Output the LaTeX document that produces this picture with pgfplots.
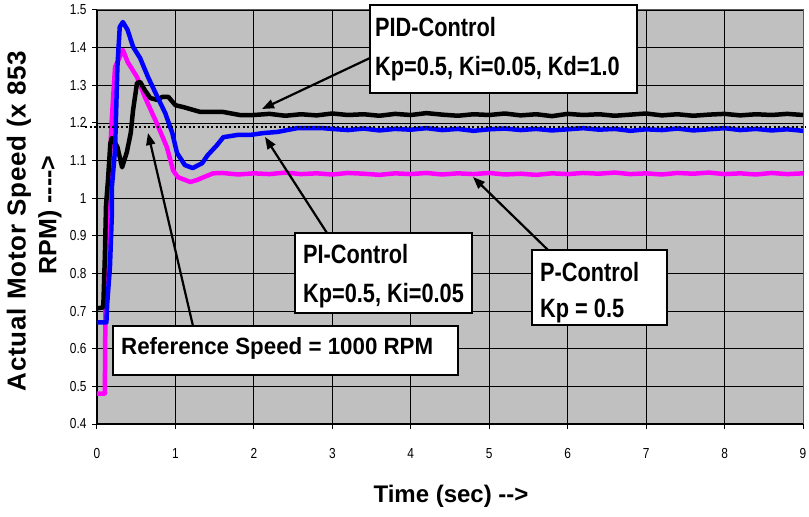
\documentclass[border=0pt]{standalone}
\usepackage{fontspec}
\setmainfont{Liberation Sans}[FakeStretch=0.82]
\newfontfamily\reffont{Liberation Sans}[FakeStretch=0.95]
\newfontfamily\labfont{Liberation Sans}[LetterSpace=3]
\newfontfamily\labplain{Liberation Sans}
\usepackage{pgfplots}
\pgfplotsset{compat=1.18}
\usetikzlibrary{arrows.meta}
\definecolor{plotgray}{RGB}{192,192,192}
\definecolor{pmag}{RGB}{255,0,255}
\definecolor{pblue}{RGB}{0,0,255}
\newcommand{\hy}{-\kern0pt}
\begin{document}
\begin{tikzpicture}
\useasboundingbox (-97bp,-93bp) rectangle (712bp,424bp);
\begin{axis}[at={(0,0)},anchor=south west,
 width=706bp,height=414bp,scale only axis,
 xmin=0,xmax=9,ymin=0.4,ymax=1.5,
 xtick={0,1,...,9},
 ytick={0.4,0.5,0.6,0.7,0.8,0.9,1,1.1,1.2,1.3,1.4,1.5},
 axis x line=bottom, axis y line=left,
 x axis line style={-}, y axis line style={-},
 axis line style={black,line width=1.2bp},
 tick align=outside, major tick length=5bp, tick style={black,line width=1bp},
 grid=major, major grid style={black,line width=0.8bp},
 axis background/.style={fill=plotgray},
 /pgf/number format/assume math mode=true,
 ticklabel style={font=\fontsize{14.5bp}{16bp}\selectfont},
 xticklabel style={yshift=-16bp},
 yticklabel style={xshift=-2bp},
 clip=false,
]
\draw[gray!70!black,line width=1bp] (rel axis cs:0,1) -- (rel axis cs:1,1) -- (rel axis cs:1,0);
% P-control
\addplot[pmag,line width=4.5bp,line join=round] coordinates {
(0,0.481) (0.1,0.481) (0.11,0.774) (0.13,0.95) (0.19,1.215) (0.23,1.348) (0.29,1.375) (0.33,1.394)
(0.39,1.362) (0.51,1.322) (0.61,1.269) (0.76,1.2) (0.89,1.136) (0.97,1.074) (1.03,1.056)
(1.19,1.043) (1.27,1.048) (1.48,1.066)
(1.6,1.067) (1.8,1.063) (2.0,1.066) (2.2,1.064) (2.4,1.068) (2.6,1.064) (2.8,1.066) (3.0,1.063)
(3.2,1.067) (3.4,1.065) (3.6,1.062) (3.8,1.066) (4.0,1.064) (4.2,1.067) (4.4,1.063) (4.6,1.066)
(4.8,1.064) (5.0,1.067) (5.2,1.063) (5.4,1.065) (5.6,1.062) (5.8,1.066) (6.0,1.064) (6.2,1.067)
(6.4,1.065) (6.6,1.068) (6.8,1.064) (7.0,1.066) (7.2,1.063) (7.4,1.067) (7.6,1.065) (7.8,1.068)
(8.0,1.064) (8.2,1.066) (8.4,1.063) (8.6,1.067) (8.8,1.064) (9.0,1.066)};
% PID-control
\addplot[black,line width=4.5bp,line join=round] coordinates {
(0,0.707) (0.08,0.71) (0.10,0.843) (0.115,0.981) (0.14,1.048) (0.17,1.146) (0.19,1.16)
(0.26,1.136) (0.32,1.082) (0.38,1.122) (0.43,1.173) (0.46,1.234) (0.51,1.306) (0.55,1.309)
(0.61,1.287) (0.68,1.266) (0.77,1.261) (0.83,1.269) (0.91,1.269) (1.0,1.247) (1.1,1.242)
(1.32,1.229) (1.61,1.229) (1.82,1.221)
(2.0,1.221) (2.2,1.224) (2.4,1.219) (2.6,1.223) (2.8,1.220) (3.0,1.225) (3.2,1.221) (3.4,1.223)
(3.6,1.219) (3.8,1.224) (4.0,1.221) (4.2,1.226) (4.4,1.222) (4.6,1.219) (4.8,1.223) (5.0,1.221)
(5.2,1.225) (5.4,1.220) (5.6,1.223) (5.8,1.218) (6.0,1.224) (6.2,1.221) (6.4,1.223) (6.6,1.219)
(6.8,1.222) (7.0,1.225) (7.2,1.220) (7.4,1.223) (7.6,1.219) (7.8,1.222) (8.0,1.224) (8.2,1.220)
(8.4,1.223) (8.6,1.221) (8.8,1.224) (9.0,1.221)};
% PI-control
\addplot[pblue,line width=4.5bp,line join=round] coordinates {
(0,0.670) (0.12,0.670) (0.13,0.72) (0.165,0.817) (0.19,0.96) (0.19,1.03) (0.23,1.128)
(0.26,1.348) (0.29,1.455) (0.33,1.468) (0.39,1.447) (0.46,1.402) (0.55,1.372) (0.65,1.322)
(0.77,1.269) (0.87,1.226) (0.96,1.173) (1.02,1.12) (1.12,1.088) (1.22,1.08) (1.34,1.093)
(1.41,1.114) (1.53,1.141) (1.61,1.162) (1.79,1.168) (1.95,1.168) (2.12,1.173) (2.3,1.176)
(2.55,1.186) (2.88,1.186)
(3.0,1.184) (3.2,1.181) (3.4,1.185) (3.6,1.180) (3.8,1.184) (4.0,1.182) (4.2,1.186) (4.4,1.181)
(4.6,1.184) (4.8,1.179) (5.0,1.183) (5.2,1.185) (5.4,1.181) (5.6,1.184) (5.8,1.180) (6.0,1.183)
(6.2,1.186) (6.4,1.182) (6.6,1.184) (6.8,1.179) (7.0,1.183) (7.2,1.181) (7.4,1.185) (7.6,1.180)
(7.8,1.183) (8.0,1.186) (8.2,1.181) (8.4,1.184) (8.6,1.180) (8.8,1.183) (9.0,1.179)};
% reference speed
\addplot[black,line width=2bp,dash pattern=on 2bp off 2.5bp] coordinates {(-0.15,1.19) (9.03,1.19)};
\end{axis}
\tikzset{box/.style={draw=black,line width=1.8bp,fill=white},
 arr/.style={black,line width=2.2bp,-{Triangle[length=12bp,width=9bp]}},
 bt/.style={anchor=base west,inner sep=0pt,font=\bfseries\fontsize{26.5bp}{30bp}\selectfont}}
% arrows
\draw[arr] (273bp,366bp) -- (165bp,315bp);
\draw[arr] (230bp,191bp) -- (168bp,287bp);
\draw[arr] (451bp,174bp) -- (376bp,247bp);
\draw[arr] (96bp,98bp) -- (51bp,291bp);
% boxes
\draw[box] (273bp,331bp) rectangle (540bp,419bp);
\node[bt] at (278bp,387bp) {PID-Control};
\node[bt] at (278bp,348bp) {Kp=0.5, Ki=0.05, Kd=1.0};
\draw[box] (198bp,111bp) rectangle (375bp,191bp);
\node[bt] at (206bp,160bp) {PI-Control};
\node[bt] at (206bp,121bp) {Kp=0.5, Ki=0.05};
\draw[box] (435bp,99bp) rectangle (570bp,174bp);
\node[bt] at (443bp,142bp) {P-Control};
\node[bt] at (443bp,106bp) {Kp = 0.5};
\draw[box] (16bp,49bp) rectangle (361bp,98bp);
\node[anchor=base west,inner sep=0pt,font=\reffont\bfseries\fontsize{23.5bp}{26bp}\selectfont] at (24bp,69bp) {Reference Speed = 1000 RPM};
% axis labels
\node[rotate=90,inner sep=0pt,font=\labfont\bfseries\fontsize{26bp}{30bp}\selectfont] at (-78bp,203bp) {Actual Motor Speed (x 853};
\node[rotate=90,inner sep=0pt,font=\labplain\bfseries\fontsize{25bp}{30bp}\selectfont] at (-47bp,209bp) {RPM) \hy\hy\hy\hy>};
\node[anchor=base,inner sep=0pt,font=\labplain\bfseries\fontsize{24bp}{28bp}\selectfont] at (354bp,-78bp) {Time (sec) \hy\hy>};
\end{tikzpicture}
\end{document}
